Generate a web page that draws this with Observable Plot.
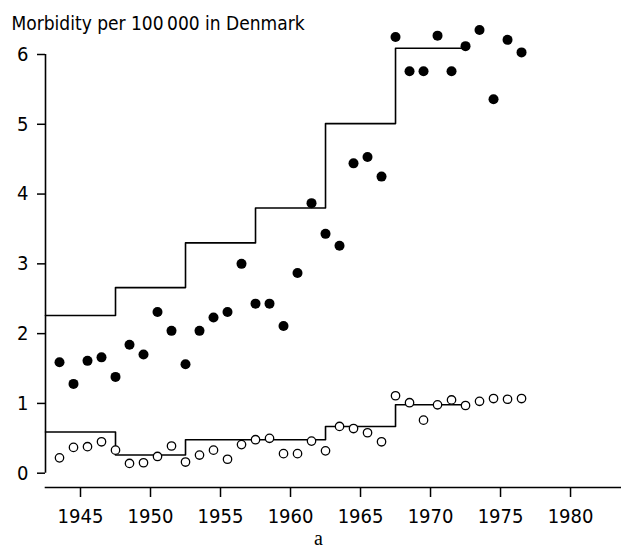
<!DOCTYPE html>
<html><head><meta charset="utf-8">
<script src="https://cdn.jsdelivr.net/npm/d3@7"></script>
<script src="https://cdn.jsdelivr.net/npm/@observablehq/plot@0.6"></script>
<style>body{margin:0;background:#fff}</style>
</head><body><div id="chart"></div>
<script>
const years = [1943,1944,1945,1946,1947,1948,1949,1950,1951,1952,1953,1954,1955,1956,1957,1958,1959,1960,1961,1962,1963,1964,1965,1966,1967,1968,1969,1970,1971,1972,1973,1974,1975,1976];
const filledValues = [1.59,1.28,1.61,1.66,1.38,1.84,1.70,2.31,2.04,1.56,2.04,2.23,2.31,3.00,2.43,2.43,2.11,2.87,3.87,3.43,3.26,4.44,4.53,4.25,6.25,5.76,5.76,6.27,5.76,6.12,6.35,5.36,6.21,6.03];
const openValues = [0.22,0.37,0.38,0.45,0.33,0.14,0.15,0.24,0.39,0.16,0.26,0.33,0.20,0.41,0.48,0.50,0.28,0.28,0.46,0.32,0.67,0.64,0.58,0.45,1.11,1.01,0.76,0.98,1.05,0.97,1.03,1.07,1.06,1.07];
const periodStarts = [1942.5,1947.5,1952.5,1957.5,1962.5,1967.5];
const periodEnd = 1972.5;
const upperLevels = [2.26,2.66,3.30,3.80,5.01,6.09];
const lowerLevels = [0.59,0.26,0.48,0.48,0.67,0.98];
const xTicks = [1945,1950,1955,1960,1965,1970,1975,1980];
const yTicks = [0,1,2,3,4,5,6];
const xDomain = [1942.5,1983.64];
const title = "Morbidity per 100\u2009000 in Denmark";
const panelLabel = "a";

const filled = years.map((y,i)=>({x:y+0.5, v:filledValues[i]}));
const open = years.map((y,i)=>({x:y+0.5, v:openValues[i]}));
function steps(levels){
  const pts = periodStarts.map((s,i)=>({x:s, v:levels[i]}));
  pts.push({x:periodEnd, v:levels[levels.length-1]});
  return pts;
}
const font = "'DejaVu Sans Condensed','DejaVu Sans',sans-serif";

const chart = Plot.plot({
  width: 621, height: 548,
  marginLeft: 45, marginRight: 0, marginTop: 54, marginBottom: 61,
  x: {domain: xDomain},
  y: {domain: [0,6], range: [472.7, 54]},
  style: {fontFamily: font, fontSize: "20px", color: "black", background: "white"},
  marks: [
    Plot.frame({anchor: "bottom", strokeWidth: 1.6}),
    Plot.ruleX([xDomain[0]], {y1: 0, y2: 6, strokeWidth: 1.6}),
    Plot.axisX(xTicks, {tickSize: 10, tickPadding: 11, tickFormat: d => String(d), label: null, strokeWidth: 1.5, fontSize: 20}),
    Plot.axisY(yTicks, {tickSize: 8, tickPadding: 9, tickFormat: d => String(d), label: null, strokeWidth: 1.5, fontSize: 20}),
    Plot.line(steps(upperLevels), {x: "x", y: "v", curve: "step-after", stroke: "black", strokeWidth: 1.6}),
    Plot.line(steps(lowerLevels), {x: "x", y: "v", curve: "step-after", stroke: "black", strokeWidth: 1.6}),
    Plot.dot(filled, {x: "x", y: "v", r: 5, fill: "black", stroke: "none"}),
    Plot.dot(open, {x: "x", y: "v", r: 4.2, fill: "white", stroke: "black", strokeWidth: 1.3}),
    Plot.text([title], {frameAnchor: "top-left", text: d => d, textAnchor: "start", lineAnchor: "bottom", dx: -34, dy: -25, fontSize: 19, fontFamily: font}),
    Plot.text([panelLabel], {frameAnchor: "bottom", text: d => d, dx: -15, dy: 51, lineAnchor: "middle", fontSize: 20, fontFamily: "'Liberation Serif',serif"})
  ]
});
document.getElementById("chart").appendChild(chart);
</script>
</body></html>
